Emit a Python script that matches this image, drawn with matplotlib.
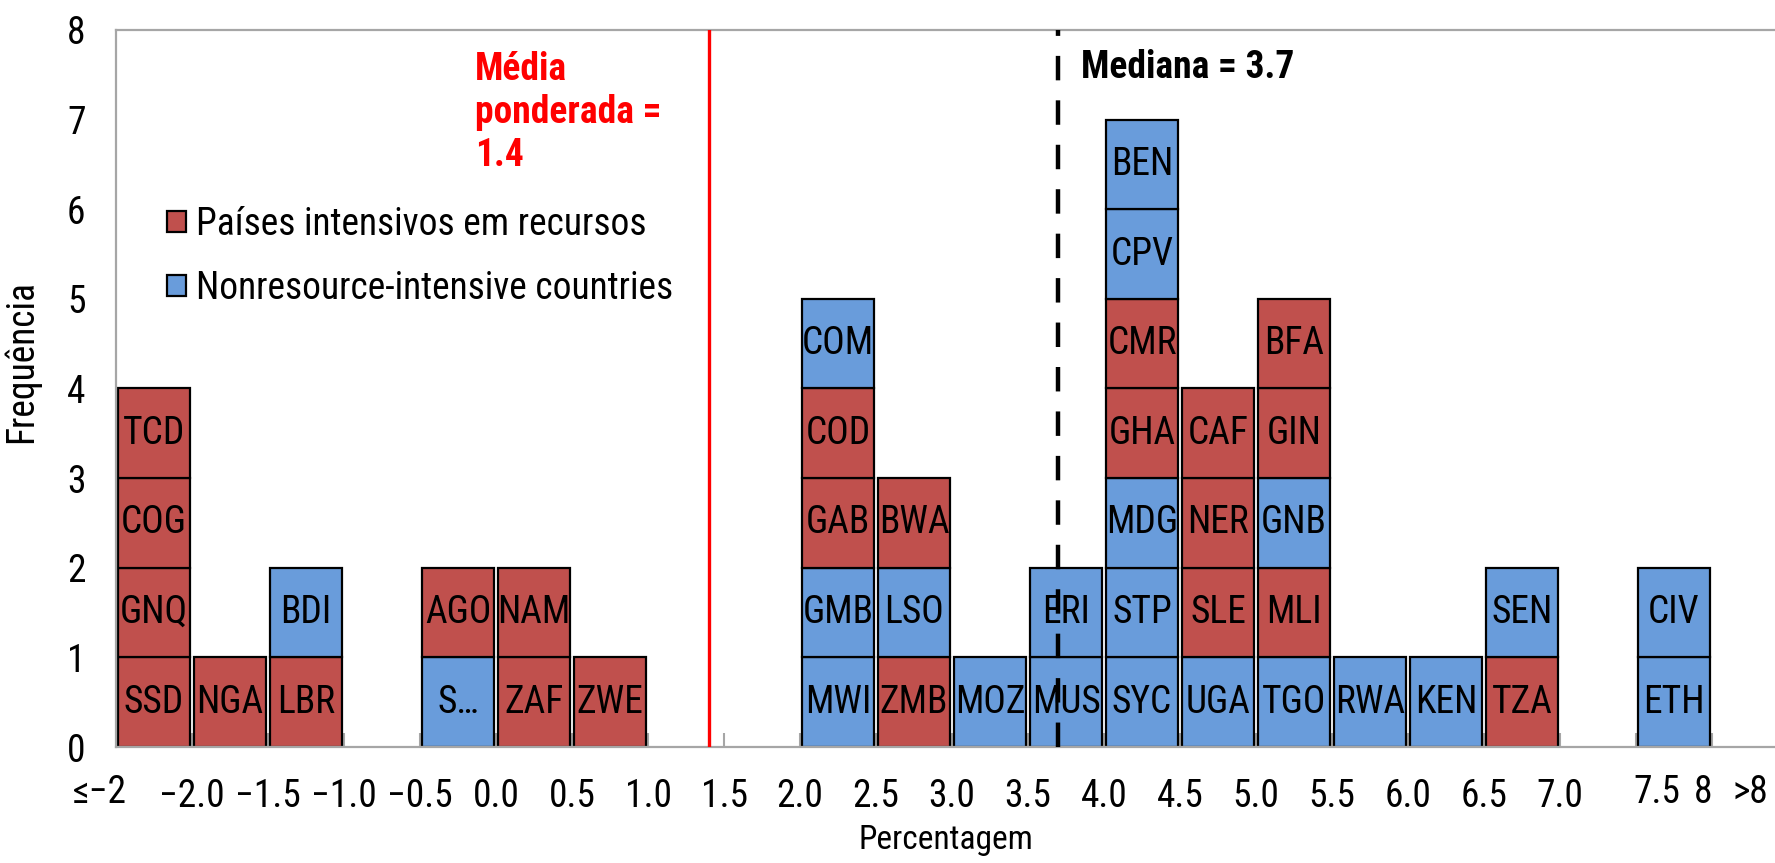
import matplotlib
matplotlib.use("Agg")
import matplotlib.pyplot as plt
from matplotlib import font_manager as fm
from matplotlib.patches import Patch
import numpy as np

# pick a narrow sans font if one is installed
def pick_font():
    prefs = ["Liberation Sans Narrow", "Arial Narrow", "Roboto Condensed", "Open Sans Condensed",
             "Noto Sans Condensed", "DejaVu Sans Condensed"]
    names = {f.name for f in fm.fontManager.ttflist}
    for p in prefs:
        if p in names:
            return p, "normal"
    for f in fm.fontManager.ttflist:
        if any(k in f.name for k in ("Narrow", "Condensed")):
            return f.name, "normal"
    for f in fm.fontManager.ttflist:
        if str(f.stretch) in ("condensed", "semi-condensed", "extra-condensed") or \
                (isinstance(f.stretch, (int, float)) and f.stretch < 500):
            return f.name, "condensed"
    return "Liberation Sans", "normal"

FAM, STRETCH = pick_font()
plt.rcParams['font.family'] = [FAM, 'DejaVu Sans']
plt.rcParams['font.stretch'] = STRETCH

# ---- data ----
countries = ["SSD", "GNQ", "COG", "TCD", "NGA", "LBR", "BDI", "S…", "AGO", "ZAF", "NAM", "ZWE",
             "MWI", "GMB", "GAB", "COD", "COM", "ZMB", "LSO", "BWA", "MOZ", "MUS", "ERI",
             "SYC", "STP", "MDG", "GHA", "CMR", "CPV", "BEN", "UGA", "SLE", "NER", "CAF",
             "TGO", "MLI", "GNB", "GIN", "BFA", "RWA", "KEN", "TZA", "SEN", "ETH", "CIV"]
bin_upper = ([-2.0] * 4 + [-1.5] + [-1.0] * 2 + [0.0] * 2 + [0.5] * 2 + [1.0] +
             [2.5] * 5 + [3.0] * 3 + [3.5] + [4.0] * 2 + [4.5] * 7 + [5.0] * 4 +
             [5.5] * 5 + [6.0] + [6.5] + [7.0] * 2 + [8.0] * 2)
group = ["R", "R", "R", "R", "R", "R", "N", "N", "R", "R", "R", "R",
         "N", "N", "R", "R", "N", "R", "N", "R", "N", "N", "N",
         "N", "N", "N", "R", "R", "N", "N", "N", "R", "R", "R",
         "N", "R", "N", "R", "R", "N", "N", "R", "N", "N", "N"]
tick_values = [-2.0, -1.5, -1.0, -0.5, 0.0, 0.5, 1.0, 1.5, 2.0, 2.5, 3.0, 3.5,
               4.0, 4.5, 5.0, 5.5, 6.0, 6.5, 7.0]
extra_labels = ["≤−2", "7.5", "8", ">8"]
extra_pos = [-2.61, 7.64, 7.94, 8.25]
weighted_mean = 1.4
median = 3.7

bin_w = 0.5
colors = {"R": "#C0504D", "N": "#699CDB"}
legend_names = {"R": "Países intensivos em recursos", "N": "Nonresource-intensive countries"}

fig = plt.figure(figsize=(17.75, 8.63), dpi=100)
ax = fig.add_axes([116 / 1775, 116 / 863, 1 - 116 / 1775, (747 - 30) / 863])

FS = 27
counts = {}
for c, up, g in zip(countries, bin_upper, group):
    h = counts.get(up, 0)
    xc = up - bin_w / 2
    ax.bar(xc, 1, bottom=h, width=0.48, color=colors[g], edgecolor="black",
           linewidth=1.6, zorder=2)
    ax.text(xc, h + 0.5, c, ha="center", va="center", fontsize=FS, zorder=3)
    counts[up] = h + 1

ax.axvline(weighted_mean, color="#FF0000", lw=2.4, zorder=4)
ax.axvline(median, color="black", lw=3.2, ls=(0, (5.5, 4.5)), zorder=5)

ax.text(-0.14, 7.08, "Média\nponderada =\n1.4", color="#FF0000",
        fontsize=FS, fontweight="bold", ha="left", va="center", linespacing=1.2)
ax.text(median + 0.15, 7.58, "Mediana = 3.7", color="black", fontsize=FS,
        fontweight="bold", ha="left", va="center")

ax.set_xlim(-2.5, -2.5 + (1775 - 116) / 152)
ax.set_ylim(0, 8)
ax.set_yticks(range(0, 9))
ax.tick_params(axis="y", length=0, pad=22, labelsize=FS)
xt = np.arange(-2.0, 8.01, 0.5)
ax.set_xticks(xt)
ax.set_xticklabels([("%.1f" % v).replace("-", "−") if v in tick_values else "" for v in xt])
ax.tick_params(axis="x", direction="in", length=10, width=1.5, color="#A6A6A6",
               pad=22, labelsize=FS)
for lab, p in zip(extra_labels, extra_pos):
    ax.text(p, -0.0628, lab, ha="center", va="center", fontsize=FS, clip_on=False,
            transform=ax.get_xaxis_transform())

for s in ["left", "top", "bottom"]:
    ax.spines[s].set_color("#A6A6A6")
    ax.spines[s].set_linewidth(1.6)
ax.spines["right"].set_visible(False)

ax.set_ylabel("Frequência", fontsize=27)
ax.yaxis.set_label_coords(-0.046, 0.537)
ax.set_xlabel("Percentagem", fontsize=24, labelpad=7)

handles = [Patch(facecolor=colors[k], edgecolor="black", linewidth=1.6, label=legend_names[k])
           for k in ["R", "N"]]
ax.legend(handles=handles, loc="center left", bbox_to_anchor=(0.031, 0.684), frameon=False,
          fontsize=FS, handlelength=0.5, handleheight=0.5, handletextpad=0.25,
          labelspacing=0.72, borderaxespad=0, borderpad=0)

fig.savefig("out.png", dpi=100)
